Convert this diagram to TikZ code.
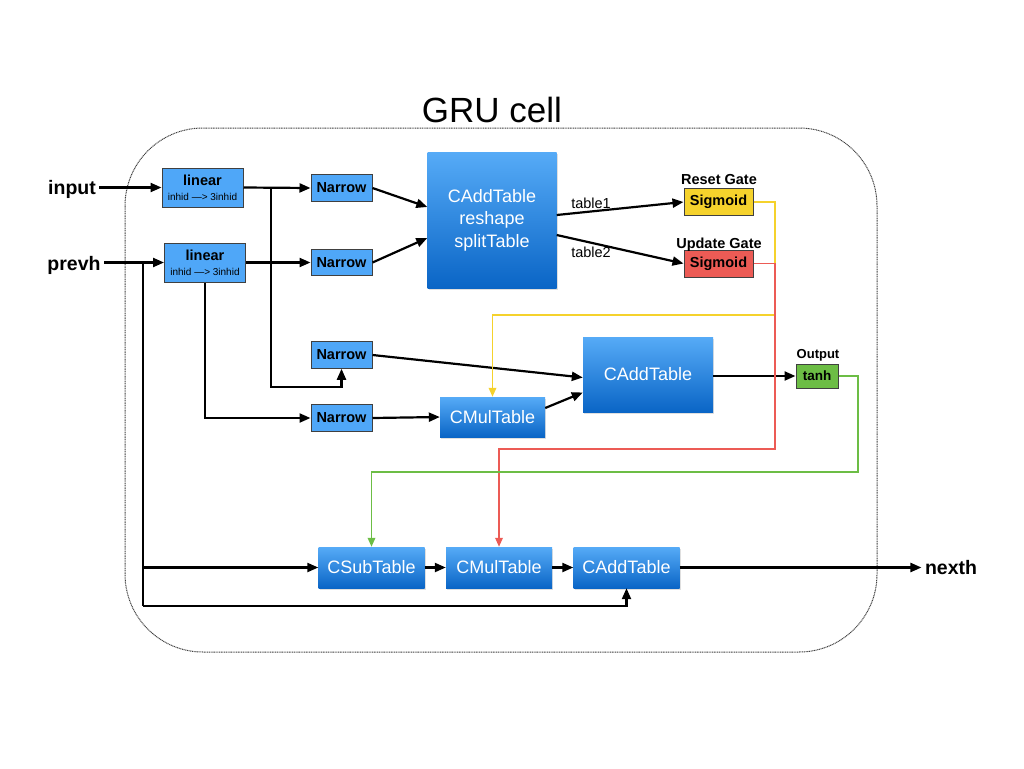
\documentclass[tikz,border=0pt]{standalone}
\usepackage{fontspec}
\setmainfont{Liberation Sans}
\usepackage{xcolor}
\usepackage{tikz}
\usetikzlibrary{arrows.meta,shadows}
\definecolor{boxblue}{HTML}{4FA7F8}
\definecolor{gradtop}{HTML}{56ABF7}
\definecolor{gradbot}{HTML}{0A65C6}
\definecolor{gateyellow}{HTML}{F5D22C}
\definecolor{gatered}{HTML}{EC5B55}
\definecolor{gategreen}{HTML}{6CBD45}

\begin{document}
\begin{tikzpicture}[x=1pt,y=-1pt,
    wire/.style={line width=2.2pt,-{Triangle[length=11pt,width=9pt]}},
    cwire/.style={line width=1.8pt,-{Triangle[length=9pt,width=7.5pt]}},
    small/.style={draw=black!75,line width=1pt,inner sep=0pt,fill=boxblue,font=\fontsize{14.5}{16}\selectfont\bfseries},
    flat/.style={shading=axis,top color=gradtop,bottom color=gradbot,text=white,inner sep=0pt,
        font=\fontsize{18}{22.5}\selectfont,drop shadow={shadow xshift=1pt,shadow yshift=-1.5pt,opacity=0.25}},
    lbl/.style={font=\fontsize{14.5}{16}\selectfont\bfseries}]
    \useasboundingbox (0,0) rectangle (1024,768);
    \draw [black!75,line width=1pt,dash pattern=on 1pt off 0.7pt,rounded corners=78pt] (125,128) rectangle (877,652);
    \node[anchor=base,font=\fontsize{35}{40}\selectfont] (title) at (492,122) {GRU cell};
    % inputs and output
    \node[anchor=base,font=\fontsize{19.5}{22}\selectfont\bfseries] (input) at (72,194) {input};
    \node[anchor=base,font=\fontsize{19.5}{22}\selectfont\bfseries] (prevh) at (74,270) {prevh};
    \node[anchor=base,font=\fontsize{19.5}{22}\selectfont\bfseries] (nexth) at (951,574) {nexth};
    % linear layers
    \foreach \n/\x/\y in {linA/202.5/187.5, linB/205/262.5}
        \node[small,minimum width=81pt,minimum height=39pt,align=center] (\n) at (\x,\y)
            {linear\\[-1pt]{\fontsize{10}{11}\selectfont\mdseries inhid —> 3inhid}};
    \foreach \n/\y in {nA/188, nB/262.5, nC/355, nD/418}
        \node[small,minimum width=61pt,minimum height=26.5pt] (\n) at (341.5,\y) {Narrow};
    \node[flat,minimum width=129pt,minimum height=136pt,align=center] (split) at (492,220)
        {CAddTable\\reshape\\splitTable};
    % gates
    \node[small,fill=gateyellow,minimum width=69pt,minimum height=27pt] (reset) at (718.5,202) {Sigmoid};
    \node[small,fill=gatered,minimum width=69pt,minimum height=27pt] (update) at (718.5,263.5) {Sigmoid};
    \node[small,fill=gategreen,minimum width=42pt,minimum height=24pt,font=\fontsize{13.5}{15}\selectfont\bfseries] (tanh) at (817,376) {tanh};
    \node[lbl,anchor=base] (resetlbl) at (719,184) {Reset Gate};
    \node[lbl,anchor=base] (updatelbl) at (719,248) {Update Gate};
    \node[lbl,anchor=base,font=\fontsize{13}{15}\selectfont\bfseries] (outlbl) at (818,358) {Output};
    \node[flat,minimum width=105pt,minimum height=40pt] (mulA) at (492.5,417) {CMulTable};
    \node[flat,minimum width=130pt,minimum height=75pt] (addA) at (648,374.5) {CAddTable};
    \foreach \n/\x/\t in {sub/371.5/CSubTable, mulB/499/CMulTable, addB/626.5/CAddTable}
        \node[flat,minimum width=106pt,minimum height=41pt] (\n) at (\x,567.5) {\t};
    \node[anchor=base,font=\fontsize{14.5}{16}\selectfont] (tab1) at (591,208) {table1};
    \node[anchor=base,font=\fontsize{14.5}{16}\selectfont] (tab2) at (591,257) {table2};
    % junctions
    \coordinate (jp) at (143,263);
    \coordinate (pb) at (143,606);
    \coordinate (ja) at (271,188);
    \coordinate (jc) at (271,387);
    \coordinate (ry) at (775,315);
    \coordinate (ur) at (775,449);
    \coordinate (tg) at (858,472);
    % black wires
    \draw[wire] (input.east |- linA.west) -- (linA.west);
    \draw[wire] (prevh.east |- linB.west) -- (linB.west);
    \draw[line width=2.2pt] (jp) -- (pb);
    \draw[wire] (pb) -| (addB.south);
    \draw[wire] (sub.west -| jp) -- (sub.west);
    \draw[wire] (linA.east) -- (nA.west);
    \draw[wire] (ja) -- (jc) -| (nC.south);
    \draw[wire] (linB.east) -- (nB.west);
    \draw[wire] (linB.south) |- (nD.west);
    \draw[wire] (nA.east) -- ([yshift=13pt]split.west);
    \draw[wire] (nB.east) -- ([yshift=-18pt]split.west);
    \draw[wire] ([yshift=5pt]split.east) -- (reset.west);
    \draw[wire] ([yshift=-15pt]split.east) -- (update.west);
    \draw[wire] (nC.east) -- ([yshift=-3pt]addA.west);
    \draw[wire] (nD.east) -- (mulA.west);
    \draw[wire] ([yshift=9pt]mulA.east) -- ([yshift=-18pt]addA.west);
    \draw[wire] (addA.east |- tanh.west) -- (tanh.west);
    \draw[wire] (sub.east) -- (mulB.west);
    \draw[wire] (mulB.east) -- (addB.west);
    \draw[wire] (addB.east) -- (nexth.west |- addB.east);
    % gate wires
    \draw[cwire,gateyellow] (reset.east) -| (ry) -| (mulA.north);
    \draw[cwire,gatered] (update.east) -| (ur) -| (mulB.north);
    \draw[cwire,gategreen] (tanh.east) -| (tg) -| (sub.north);
\end{tikzpicture}
\end{document}
